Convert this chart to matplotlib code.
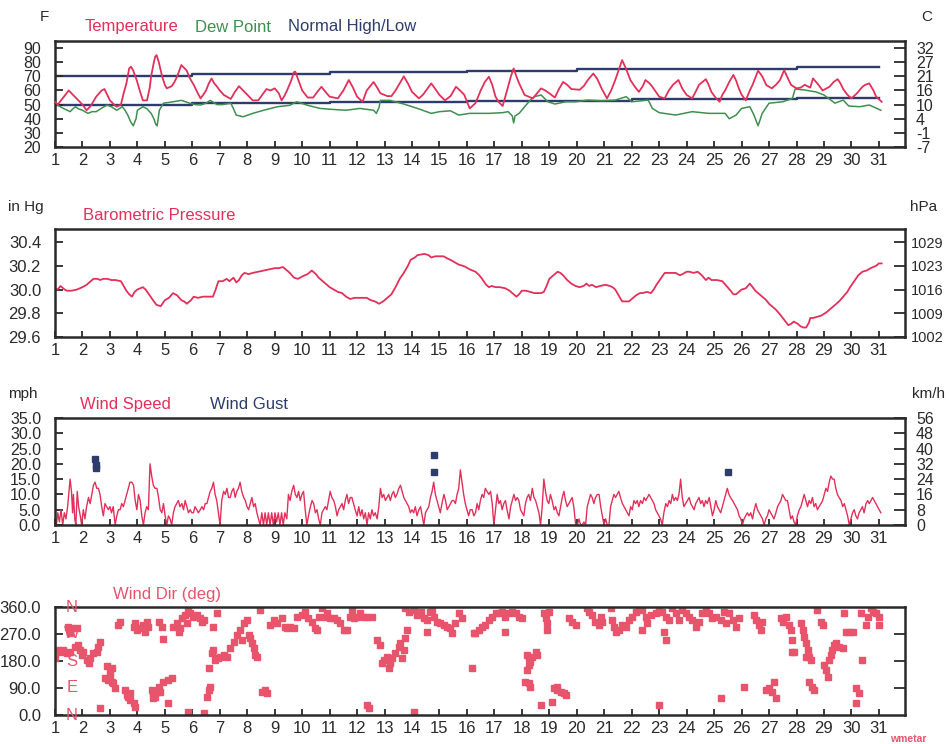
import matplotlib.pyplot as plt
from matplotlib.transforms import blended_transform_factory

# --- data ---
days = list(range(1, 32))

normal_day = [1, 6, 11, 16, 20, 28, 31]
normal_high = [70, 71.5, 72.8, 74, 75.2, 76.3, 76.3]
low_day = [1, 6, 11, 16, 22, 28, 31]
normal_low = [49.8, 51, 52, 52.6, 53.8, 54.8, 54.8]

temp_day = [1.0, 1.1, 1.3, 1.5, 1.65, 1.8, 2.0, 2.15, 2.3, 2.5, 2.7, 2.8, 2.9, 3.0, 3.15, 3.25, 3.4, 3.5,
            3.6, 3.7, 3.77, 3.85, 3.98, 4.1, 4.2, 4.35, 4.45, 4.5, 4.6, 4.65, 4.7, 4.78, 4.9, 5.0, 5.07,
            5.25, 5.35, 5.45, 5.6, 5.7, 5.8, 5.9, 6.05, 6.2, 6.3, 6.4, 6.5, 6.6, 6.7, 6.8, 6.9, 7.0,
            7.15, 7.4, 7.55, 7.7, 7.8, 7.9, 8.05, 8.2, 8.4, 8.55, 8.7, 8.85, 9.0, 9.15, 9.25, 9.35,
            9.45, 9.6, 9.7, 9.75, 9.85, 10.0, 10.2, 10.4, 10.55, 10.7, 10.85, 11.0, 11.3, 11.5, 11.7,
            11.85, 12.0, 12.2, 12.35, 12.6, 12.7, 12.85, 13.1, 13.25, 13.4, 13.55, 13.7, 13.85, 14.0,
            14.25, 14.4, 14.55, 14.7, 14.85, 15.0, 15.2, 15.4, 15.6, 15.75, 15.9, 16.1, 16.31, 16.5,
            16.65, 16.8, 16.92, 17.04, 17.15, 17.3, 17.46, 17.6, 17.7, 17.8, 17.9, 18.1, 18.4, 18.55,
            18.7, 18.85, 19.0, 19.2, 19.35, 19.5, 19.65, 19.8, 20.1, 20.25, 20.4, 20.6, 20.75, 20.9,
            21.1, 21.25, 21.4, 21.55, 21.65, 21.8, 21.95, 22.1, 22.26, 22.4, 22.5, 22.65, 22.75, 23.0,
            23.2, 23.35, 23.5, 23.7, 23.85, 24.0, 24.2, 24.35, 24.45, 24.7, 24.8, 24.9, 25.05, 25.2,
            25.3, 25.4, 25.55, 25.7, 25.8, 25.9, 26.0, 26.15, 26.3, 26.4, 26.6, 26.75, 26.9, 27.1,
            27.25, 27.4, 27.55, 27.7, 27.8, 28.0, 28.15, 28.3, 28.5, 28.6, 28.8, 28.95, 29.2, 29.35,
            29.5, 29.6, 29.7, 29.85, 30.0, 30.2, 30.4, 30.5, 30.65, 30.8, 30.9, 31.1]
temp_f = [52, 50, 55, 60, 57, 54, 50, 46, 49, 55.6, 60, 61, 57, 53, 50, 48.5, 50, 58,
          65, 75.6, 76.8, 74, 67, 59, 53, 53, 62, 70, 80, 84, 85, 80, 70, 64, 61.5,
          63, 66, 70, 78, 76, 74, 69, 64, 58, 54.4, 57, 60, 65, 68.5, 65, 62.7, 60,
          56.8, 54, 59, 63, 61, 59, 56, 53, 53, 57, 61, 60, 61.5, 58, 53, 56,
          60, 67, 73, 73.3, 68, 60, 55, 55, 59, 62.6, 59, 55.6, 54.4, 60, 67.4,
          62, 55.6, 52, 60, 66, 63, 58, 56, 56, 60, 65, 70, 65, 59,
          54.4, 57, 61, 65, 61, 56.8, 53, 56, 62.6, 60, 57, 47.3, 51, 60,
          66, 69.7, 64, 55.6, 52, 49, 60, 70, 75.6, 70, 65, 56.8, 54.4, 58,
          61.5, 60, 58, 55, 61, 66, 64, 61, 60.5, 63, 67.4, 72, 68, 61.5,
          54.4, 60, 67.4, 76, 81.5, 75, 67.4, 63, 59, 63, 67.4, 65, 62.6, 55.6,
          54.4, 60, 64, 67.4, 61, 56.8, 54.4, 60, 64, 68, 64, 59, 55, 52,
          57, 60, 66, 71, 67, 61.5, 57, 53, 60, 64, 74, 70, 63.8, 61.5,
          64, 67.4, 74.4, 68, 64, 61.5, 62, 64, 62, 68.5, 64, 60, 62.6, 66,
          68, 65, 61, 57, 54.4, 58, 62.6, 64, 65, 60, 55.6, 52]

dew_day = [1.0, 1.15, 1.3, 1.45, 1.55, 1.65, 1.75, 1.85, 2.0, 2.2, 2.35, 2.5, 2.7, 2.9, 3.05, 3.25,
           3.45, 3.55, 3.65, 3.75, 3.85, 3.95, 4.0, 4.2, 4.35, 4.5, 4.6, 4.67, 4.72, 4.8, 4.95, 5.3,
           5.6, 5.9, 6.1, 6.3, 6.5, 6.65, 6.9, 7.1, 7.4, 7.5, 7.6, 7.85, 8.2, 8.6, 9.1, 9.55, 9.8,
           10.2, 10.65, 11.1, 11.6, 12.1, 12.6, 12.7, 12.8, 12.85, 13.2, 13.7, 14.2, 14.7, 15.0,
           15.4, 15.7, 16.1, 16.31, 16.8, 17.3, 17.5, 17.65, 17.7, 17.75, 17.9, 18.1, 18.3, 18.45,
           18.7, 18.95, 19.2, 19.6, 19.95, 20.4, 20.9, 21.4, 21.8, 22.0, 22.6, 22.75, 23.0, 23.6,
           24.2, 24.8, 25.4, 25.55, 25.8, 26.0, 26.3, 26.45, 26.6, 26.75, 27.0, 27.5, 27.85, 27.95,
           28.3, 28.7, 29.0, 29.4, 29.7, 29.9, 30.3, 30.65, 31.07]
dew_f = [51, 49, 47.3, 46, 45, 47, 48.5, 47, 46, 43.8, 45, 45, 47.5, 49.7, 48.5, 46,
         48.5, 46, 42.6, 38, 35, 40, 46, 48.5, 47, 43.8, 40, 36, 35, 46, 51, 52,
         53, 51, 50, 49.7, 51, 53, 50, 50, 51, 47, 42.6, 41.4, 43.8, 46, 48.5, 49.5, 52,
         49.5, 47.3, 46.6, 46, 47.3, 46, 43.8, 48, 53, 53, 50.4, 47.3, 43.8, 45,
         45.6, 42.6, 43.8, 43.8, 43.8, 44.3, 45, 42, 37, 42, 43.8, 48.5, 53, 55.6,
         56.8, 52, 50.4, 52, 52, 53.2, 52.7, 53.2, 55.6, 52, 53.2, 47.3, 44.3, 42.6,
         45, 43.8, 43.8, 40, 42.6, 47.3, 48.5, 42.6, 35, 43.8, 51, 52, 54.4, 61,
         60.3, 59, 56.8, 51, 53.2, 49, 48.5, 49.7, 46]

pres_day = [1.0, 1.1, 1.2, 1.25, 1.35, 1.43, 1.6, 1.8, 2.0, 2.15, 2.3, 2.4, 2.55, 2.65, 2.75, 2.9,
            3.05, 3.2, 3.4, 3.5, 3.6, 3.7, 3.8, 3.9, 4.0, 4.1, 4.2, 4.3, 4.45, 4.6, 4.7, 4.85, 5.0,
            5.15, 5.3, 5.45, 5.6, 5.7, 5.8, 5.95, 6.05, 6.2, 6.4, 6.6, 6.75, 6.85, 6.95, 7.1, 7.25,
            7.35, 7.5, 7.6, 7.7, 7.8, 7.9, 8.05, 8.2, 8.4, 8.6, 8.8, 9.0, 9.15, 9.3, 9.45, 9.55,
            9.7, 9.85, 10.0, 10.2, 10.35, 10.5, 10.6, 10.85, 11.0, 11.15, 11.3, 11.45, 11.6, 11.75,
            11.9, 12.1, 12.35, 12.5, 12.65, 12.8, 12.95, 13.1, 13.25, 13.4, 13.55, 13.7, 13.85,
            13.95, 14.1, 14.2, 14.45, 14.6, 14.7, 14.85, 15.0, 15.15, 15.3, 15.4, 15.55, 15.7,
            15.85, 15.95, 16.1, 16.31, 16.45, 16.55, 16.7, 16.8, 16.9, 17.04, 17.2, 17.4, 17.55,
            17.65, 17.8, 17.9, 18.0, 18.15, 18.3, 18.45, 18.55, 18.7, 18.8, 18.9, 19.0, 19.15,
            19.3, 19.4, 19.5, 19.65, 19.8, 19.95, 20.1, 20.25, 20.35, 20.45, 20.55, 20.7, 20.85,
            21.05, 21.2, 21.3, 21.4, 21.5, 21.6, 21.65, 21.9, 22.05, 22.15, 22.3, 22.4, 22.55,
            22.7, 22.8, 22.9, 23.05, 23.2, 23.4, 23.6, 23.75, 23.85, 24.0, 24.1, 24.25, 24.4,
            24.55, 24.7, 24.8, 24.9, 25.1, 25.3, 25.45, 25.6, 25.7, 25.8, 25.9, 26.0, 26.15, 26.3,
            26.4, 26.5, 26.65, 26.8, 26.9, 27.0, 27.1, 27.25, 27.4, 27.5, 27.6, 27.7, 27.8, 27.9,
            28.05, 28.15, 28.25, 28.35, 28.45, 28.5, 28.6, 28.75, 28.9, 29.1, 29.25, 29.4, 29.55,
            29.7, 29.85, 29.95, 30.1, 30.25, 30.4, 30.55, 30.7, 30.8, 30.9, 31.0, 31.1]
pres_inhg = [30.01, 30.0, 30.03, 30.02, 30.0, 29.99, 29.99, 30.0, 30.02, 30.04, 30.07, 30.09, 30.09,
             30.08, 30.09, 30.09, 30.08, 30.08, 30.07, 30.03, 29.99, 29.96, 29.94, 29.98, 30.0, 30.01,
             30.02, 30.0, 29.95, 29.9, 29.87, 29.86, 29.91, 29.93, 29.97, 29.95, 29.91, 29.9, 29.88,
             29.91, 29.94, 29.93, 29.94, 29.94, 29.94, 30.0, 30.07, 30.07, 30.09, 30.07, 30.1, 30.06,
             30.08, 30.12, 30.14, 30.13, 30.14, 30.15, 30.16, 30.17, 30.18, 30.18, 30.19, 30.16,
             30.14, 30.1, 30.09, 30.11, 30.13, 30.16, 30.13, 30.1, 30.05, 30.02, 30.0, 29.98, 29.97,
             29.94, 29.92, 29.93, 29.93, 29.93, 29.91, 29.9, 29.88, 29.9, 29.93, 29.96, 30.02, 30.09,
             30.14, 30.2, 30.25, 30.27, 30.29, 30.3, 30.29, 30.27, 30.28, 30.28, 30.28, 30.26, 30.25,
             30.23, 30.21, 30.2, 30.19, 30.17, 30.15, 30.12, 30.09, 30.04, 30.02, 30.03, 30.02, 30.02,
             30.01, 29.99, 29.97, 29.94, 29.96, 29.99, 29.99, 29.98, 29.97, 29.97, 29.97, 29.98,
             30.03, 30.09, 30.12, 30.15, 30.14, 30.12, 30.08, 30.05, 30.03, 30.02, 30.03, 30.05,
             30.03, 30.04, 30.02, 30.03, 30.04, 30.03, 30.02, 30.0, 29.96, 29.92, 29.9, 29.9, 29.93,
             29.95, 29.97, 29.97, 29.98, 29.97, 30.0, 30.04, 30.09, 30.14, 30.14, 30.14, 30.12,
             30.13, 30.15, 30.15, 30.14, 30.15, 30.12, 30.08, 30.1, 30.08, 30.08, 30.07, 30.03,
             29.99, 29.96, 29.96, 29.98, 30.0, 30.01, 30.05, 30.02, 29.99, 29.96, 29.93, 29.91,
             29.88, 29.86, 29.83, 29.79, 29.76, 29.73, 29.7, 29.71, 29.73, 29.71, 29.69, 29.68,
             29.68, 29.72, 29.76, 29.76, 29.77, 29.78, 29.81, 29.84, 29.87, 29.9, 29.94, 29.98,
             30.02, 30.07, 30.12, 30.15, 30.16, 30.18, 30.19, 30.2, 30.22, 30.22]

wind_day = [1.0, 1.05, 1.1, 1.16, 1.22, 1.28, 1.34, 1.4, 1.46, 1.55, 1.6, 1.64, 1.67, 1.72, 1.76, 1.81,
            1.86, 1.92, 1.97, 2.03, 2.09, 2.15, 2.22, 2.28, 2.34, 2.4, 2.46, 2.52, 2.58, 2.64, 2.7,
            2.76, 2.82, 2.88, 2.94, 3.0, 3.06, 3.12, 3.19, 3.25, 3.31, 3.37, 3.43, 3.49, 3.55, 3.61,
            3.67, 3.73, 3.8, 3.86, 3.92, 3.98, 4.04, 4.1, 4.16, 4.22, 4.28, 4.34, 4.4, 4.46, 4.52,
            4.58, 4.64, 4.71, 4.77, 4.83, 4.89, 4.95, 5.01, 5.07, 5.13, 5.19, 5.25, 5.31, 5.37, 5.43,
            5.49, 5.55, 5.62, 5.68, 5.74, 5.8, 5.86, 5.92, 5.98, 6.04, 6.1, 6.16, 6.22, 6.29, 6.35,
            6.41, 6.47, 6.53, 6.59, 6.65, 6.71, 6.77, 6.83, 6.89, 6.95, 7.01, 7.07, 7.14, 7.2, 7.26,
            7.32, 7.38, 7.44, 7.5, 7.56, 7.62, 7.68, 7.74, 7.8, 7.87, 7.93, 7.99, 8.05, 8.11, 8.17,
            8.23, 8.29, 8.35, 8.41, 8.47, 8.53, 8.59, 8.65, 8.71, 8.77, 8.83, 8.89, 8.95, 9.01, 9.07,
            9.13, 9.19, 9.25, 9.31, 9.37, 9.44, 9.5, 9.56, 9.62, 9.69, 9.75, 9.81, 9.87, 9.93, 9.99,
            10.05, 10.11, 10.17, 10.23, 10.3, 10.36, 10.42, 10.48, 10.54, 10.6, 10.66, 10.72, 10.78,
            10.84, 10.9, 10.96, 11.02, 11.08, 11.15, 11.21, 11.27, 11.33, 11.39, 11.45, 11.51, 11.57,
            11.63, 11.69, 11.75, 11.81, 11.87, 11.93, 12.0, 12.06, 12.12, 12.18, 12.24, 12.3, 12.36,
            12.42, 12.48, 12.54, 12.6, 12.66, 12.73, 12.79, 12.85, 12.91, 12.97, 13.03, 13.09, 13.15,
            13.21, 13.27, 13.33, 13.39, 13.45, 13.52, 13.58, 13.64, 13.7, 13.76, 13.82, 13.88, 13.94,
            14.0, 14.06, 14.12, 14.18, 14.25, 14.31, 14.37, 14.43, 14.49, 14.55, 14.61, 14.67, 14.73,
            14.79, 14.85, 14.91, 14.97, 15.03, 15.09, 15.16, 15.22, 15.28, 15.34, 15.4, 15.46, 15.52,
            15.58, 15.64, 15.7, 15.76, 15.82, 15.88, 15.94, 16.0, 16.06, 16.12, 16.19, 16.25,
            16.31, 16.37, 16.43, 16.49, 16.55, 16.61, 16.67, 16.73, 16.8, 16.86, 16.92, 16.98, 17.04,
            17.1, 17.16, 17.22, 17.28, 17.34, 17.4, 17.46, 17.53, 17.59, 17.65, 17.71, 17.77, 17.83,
            17.89, 17.95, 18.01, 18.07, 18.13, 18.19, 18.25, 18.31, 18.38, 18.44, 18.5, 18.56, 18.62,
            18.68, 18.74, 18.8, 18.86, 18.92, 18.98, 19.04, 19.1, 19.17, 19.23, 19.29, 19.35, 19.41,
            19.47, 19.53, 19.59, 19.65, 19.71, 19.77, 19.83, 19.89, 19.96, 20.02, 20.08, 20.14, 20.2,
            20.26, 20.32, 20.38, 20.44, 20.5, 20.56, 20.62, 20.68, 20.75, 20.81, 20.87, 20.93, 20.99,
            21.05, 21.11, 21.17, 21.23, 21.29, 21.35, 21.41, 21.47, 21.53, 21.59, 21.66, 21.72, 21.78,
            21.84, 21.9, 21.96, 22.02, 22.08, 22.14, 22.2, 22.26, 22.32, 22.39, 22.45, 22.51, 22.57,
            22.63, 22.69, 22.75, 22.81, 22.87, 22.93, 22.99, 23.05, 23.11, 23.17, 23.24, 23.3, 23.36,
            23.42, 23.48, 23.54, 23.6, 23.66, 23.72, 23.78, 23.84, 23.9, 23.96, 24.03, 24.09, 24.15,
            24.21, 24.27, 24.33, 24.39, 24.45, 24.51, 24.57, 24.63, 24.69, 24.75, 24.82, 24.88, 24.94,
            25.0, 25.06, 25.12, 25.18, 25.24, 25.3, 25.36, 25.42, 25.48, 25.54, 25.6, 25.67, 25.73,
            25.79, 25.85, 25.91, 25.97, 26.03, 26.09, 26.15, 26.21, 26.27, 26.33, 26.4, 26.46, 26.52,
            26.58, 26.64, 26.7, 26.76, 26.82, 26.88, 26.94, 27.0, 27.06, 27.12, 27.18, 27.25, 27.31,
            27.37, 27.43, 27.49, 27.55, 27.61, 27.67, 27.73, 27.79, 27.85, 27.91, 27.97, 28.03, 28.1,
            28.16, 28.22, 28.28, 28.34, 28.4, 28.46, 28.52, 28.58, 28.64, 28.7, 28.76, 28.82, 28.89,
            28.95, 29.01, 29.07, 29.13, 29.19, 29.25, 29.31, 29.37, 29.43, 29.49, 29.55, 29.62, 29.68,
            29.74, 29.8, 29.86, 29.92, 29.98, 30.04, 30.1, 30.16, 30.22, 30.28, 30.34, 30.4, 30.46,
            30.53, 30.59, 30.65, 30.71, 30.77, 30.83, 30.89, 30.95, 31.01, 31.07]
wind_mph = [3, 0, 4, 1, 5, 0, 4, 2, 6, 15, 11, 4, 10, 2, 0, 11,
            6, 3, 0, 5, 2, 6, 9, 7, 10, 13, 14, 12, 12, 10, 6,
            3, 7, 6, 5, 6, 4, 6, 0, 3, 5, 5, 7, 6, 8, 10,
            12, 14, 14, 13, 8, 5, 10, 8, 3, 0, 4, 6, 5, 20, 16,
            13, 12, 12, 9, 5, 4, 7, 3, 0, 3, 2, 0, 4, 6, 7,
            8, 6, 7, 5, 8, 6, 4, 5, 4, 4, 6, 5, 4, 5, 6,
            5, 7, 7, 9, 11, 12, 14, 10, 8, 4, 0, 8, 11, 10, 12,
            9, 9, 11, 12, 9, 11, 12, 14, 11, 9, 8, 6, 5, 7, 9,
            6, 7, 4, 2, 0, 4, 0, 4, 0, 4, 0, 4, 0, 4, 1,
            4, 0, 4, 0, 4, 2, 10, 8, 11, 13, 10, 9, 11, 8, 10,
            11, 5, 0, 3, 6, 8, 7, 4, 5, 2, 0, 4, 5,
            6, 5, 8, 11, 9, 8, 6, 3, 5, 6, 7, 5, 8,
            10, 7, 9, 9, 7, 5, 3, 6, 3, 5, 2, 4, 0,
            4, 2, 5, 3, 4, 2, 6, 12, 9, 10, 8, 9, 10,
            8, 10, 11, 9, 10, 12, 13, 11, 9, 8, 7, 6, 4,
            5, 4, 6, 3, 5, 6, 3, 0, 4, 5, 6, 9, 11,
            14, 10, 8, 6, 4, 7, 10, 8, 5, 6, 7, 8, 8,
            7, 10, 12, 18, 14, 10, 7, 5, 3, 5, 5, 3,
            4, 7, 5, 8, 10, 9, 12, 11, 10, 11, 7, 0, 5,
            10, 7, 8, 5, 7, 8, 5, 2, 6, 8, 10, 8, 9,
            8, 5, 4, 3, 7, 9, 10, 8, 12, 9, 8, 6, 4,
            0, 6, 15, 11, 8, 7, 10, 8, 5, 6, 4, 3, 6,
            9, 11, 8, 6, 7, 8, 9, 6, 0, 0, 2, 0, 0,
            1, 0, 6, 8, 10, 9, 7, 9, 10, 10, 6, 3, 0,
            2, 0, 0, 6, 8, 10, 9, 10, 11, 9, 7, 6, 5,
            4, 3, 6, 5, 8, 7, 8, 6, 8, 7, 9, 8, 9,
            10, 9, 8, 7, 5, 4, 3, 2, 0, 4, 7, 6, 8,
            7, 10, 8, 9, 8, 10, 15, 9, 6, 7, 8, 9, 7,
            6, 5, 7, 8, 9, 7, 8, 6, 8, 7, 9, 6, 3,
            5, 8, 6, 5, 4, 6, 8, 10, 12, 10, 9, 8, 7,
            6, 5, 3, 2, 0, 2, 3, 4, 3, 4, 2, 5, 7,
            5, 4, 3, 2, 0, 2, 3, 5, 4, 3, 2, 4, 6,
            7, 8, 10, 9, 8, 8, 5, 2, 3, 1, 0, 3, 5,
            6, 8, 10, 8, 6, 8, 7, 9, 6, 7, 5, 6, 7,
            8, 10, 12, 11, 14, 16, 15, 15, 12, 10, 9, 8, 6,
            7, 5, 3, 0, 2, 4, 5, 3, 2, 4, 5, 6, 4,
            7, 8, 7, 8, 9, 8, 7, 6, 5, 4]

gust_day = [2.45, 2.5, 2.5, 14.8, 14.8, 25.5]
gust_mph = [21.6, 19.6, 18.6, 22.8, 17.2, 17.2]

dir_day = [1.0, 1.12, 1.18, 1.3, 1.43, 1.55, 1.49, 1.61, 1.55, 1.79, 1.73, 1.85, 1.91, 1.97, 2.03,
           2.15, 2.28, 2.22, 2.4, 2.52, 2.58, 2.64, 2.64, 2.88, 3.0, 3.07, 2.82, 2.94, 3.07, 3.13,
           3.19, 3.0, 3.37, 3.31, 3.55, 3.61, 3.67, 3.73, 3.86, 3.92, 3.73, 3.86, 3.98, 3.92, 4.1,
           4.22, 4.34, 4.4, 4.28, 4.52, 4.58, 4.65, 4.71, 4.77, 4.58, 4.83, 4.95, 5.13, 5.25, 5.13,
           4.77, 4.89, 4.95, 5.31, 5.43, 5.56, 5.62, 5.74, 5.86, 5.92, 6.04, 6.16, 6.29, 6.35, 6.41,
           5.8, 5.5, 5.86, 6.41, 6.89, 6.77, 6.53, 6.59, 6.65, 6.59, 6.71, 6.77, 6.83, 6.95, 7.01,
           7.14, 7.26, 7.38, 7.5, 7.62, 7.74, 7.87, 7.99, 7.8, 8.05, 8.11, 8.17, 8.23, 8.29, 8.35,
           8.47, 8.53, 8.66, 8.72, 8.84, 8.96, 9.08, 9.26, 9.38, 9.44, 9.57, 9.69, 9.81, 9.99,
           10.11, 10.23, 10.36, 10.48, 10.54, 10.6, 10.72, 10.84, 10.9, 11.02, 11.15, 11.27, 11.39,
           11.51, 11.63, 11.75, 11.81, 11.87, 12.0, 12.12, 12.24, 12.36, 12.54, 12.36, 12.42,
           12.73, 12.85, 12.91, 12.97, 13.09, 13.15, 13.21, 13.27, 13.39, 13.52, 13.58, 13.7, 13.64,
           13.76, 13.82, 14.06, 13.76, 13.88, 14.06, 14.18, 14.31, 14.43, 14.55, 14.67, 14.73,
           14.79, 14.91, 15.03, 15.16, 15.28, 15.4, 15.46, 15.58, 15.7, 15.82, 14.55, 16.19, 16.25,
           16.31, 16.43, 16.55, 16.67, 16.8, 16.92, 17.04, 17.16, 17.28, 17.4, 17.53, 17.65, 17.77,
           17.89, 18.01, 17.4, 18.19, 18.25, 18.31, 18.38, 18.5, 18.56, 18.25, 18.19, 18.13, 18.25,
           18.31, 18.68, 18.8, 18.86, 18.92, 18.98, 18.92, 19.1, 19.17, 19.29, 19.41, 19.53, 19.59,
           19.29, 19.71, 19.83, 19.96, 20.38, 20.44, 20.56, 20.68, 20.81, 20.87, 20.93, 21.23,
           21.29, 21.35, 21.41, 21.53, 21.66, 21.78, 21.9, 22.02, 22.14, 22.26, 22.39, 22.51, 22.39,
           22.57, 22.69, 22.87, 22.99, 23.11, 23.24, 23.36, 23.48, 23.6, 23.72, 23.84, 23.96, 24.09,
           24.21, 24.33, 24.45, 24.57, 24.69, 24.82, 24.94, 25.06, 25.24, 25.36, 25.42, 25.54,
           25.67, 25.79, 25.91, 23.17, 23.24, 22.99, 25.24, 26.09, 26.46, 26.52, 26.64, 26.7, 26.76,
           26.88, 27.0, 27.12, 27.18, 27.25, 27.43, 27.49, 27.61, 27.73, 27.79, 27.85, 27.91, 27.85,
           28.16, 28.22, 28.28, 28.34, 28.4, 28.46, 28.52, 28.34, 28.46, 28.58, 28.64, 28.76, 28.89,
           28.95, 29.01, 29.07, 29.13, 29.19, 29.25, 29.31, 29.37, 29.43, 29.55, 29.68, 29.74, 29.8,
           29.92, 30.04, 30.16, 30.28, 30.16, 30.4, 30.34, 30.53, 30.59, 30.71, 30.77, 30.89, 31.01,
           31.01]
dir_deg = [189, 217, 211, 217, 206, 211, 294, 289, 272, 289, 228, 233, 217, 200, 211,
           183, 189, 172, 206, 211, 228, 244, 22, 163, 144, 156, 122, 117, 111, 106,
           89, 128, 311, 300, 83, 67, 61, 50, 39, 28, 72, 294, 283, 306, 289,
           300, 311, 294, 278, 83, 72, 61, 78, 94, 56, 78, 111, 117, 122, 39,
           311, 294, 252, 294, 306, 289, 322, 333, 350, 339, 328, 333, 322, 311, 317,
           306, 278, 11, 8, 339, 294, 61, 83, 94, 156, 206, 217, 183, 189, 194,
           200, 194, 222, 244, 267, 283, 306, 317, 250, 267, 256, 239, 222, 200, 194,
           350, 78, 83, 72, 300, 317, 306, 322, 294, 289, 294, 289, 328, 333,
           344, 322, 311, 289, 283, 328, 356, 328, 339, 322, 322, 317, 306,
           283, 283, 328, 350, 322, 328, 339, 328, 328, 328, 33, 22,
           250, 233, 172, 183, 194, 156, 172, 189, 206, 228, 239, 217, 189,
           256, 283, 11, 356, 344, 350, 333, 344, 322, 317, 344, 350,
           328, 311, 306, 300, 294, 289, 272, 306, 339, 322, 278, 156, 272,
           272, 283, 294, 300, 317, 328, 339, 339, 344, 328, 339, 344, 339,
           328, 322, 278, 200, 189, 178, 194, 211, 200, 167, 150, 111, 106,
           94, 33, 339, 322, 306, 344, 283, 44, 89, 83, 78, 72, 67,
           94, 322, 311, 300, 358, 344, 333, 311, 300, 328, 311, 356,
           317, 294, 278, 283, 300, 294, 317, 328, 344, 356, 350, 328, 283,
           306, 333, 339, 350, 344, 328, 317, 356, 339, 317, 350, 339, 328,
           317, 294, 311, 339, 358, 339, 322, 328, 317, 344, 306, 339,
           317, 294, 322, 278, 250, 33, 56, 94, 333, 317, 300, 283, 311,
           83, 89, 78, 111, 56, 322, 311, 328, 300, 283, 250, 211, 211,
           306, 283, 261, 239, 217, 194, 183, 194, 111, 94, 83, 350, 311,
           300, 167, 150, 128, 183, 200, 217, 233, 239, 228, 222, 339, 278,
           278, 278, 89, 72, 39, 183, 339, 300, 328, 356, 344, 339, 328,
           300]

f_ticks = [20, 30, 40, 50, 60, 70, 80, 90]
c_labels = ['-7', '-1', '4', '10', '16', '21', '27', '32']
inhg_ticks = [29.6, 29.8, 30.0, 30.2, 30.4]
hpa_labels = ['1002', '1009', '1016', '1023', '1029']
mph_ticks = [0, 5, 10, 15, 20, 25, 30, 35]
kmh_labels = ['0', '8', '16', '24', '32', '40', '48', '56']
deg_ticks = [0, 90, 180, 270, 360]
compass = ['N', 'E', 'S', 'W', 'N']

# --- styling ---
RED = '#e3305a'
PINK = '#e8546c'
GREEN = '#3f8f50'
NAVY = '#2d3c6b'
INK = '#2a2a2a'
SANS = ['Liberation Sans', 'DejaVu Sans']
plt.rcParams['font.family'] = SANS

W, H = 949, 744
fig = plt.figure(figsize=(W / 100, H / 100), dpi=100)


def px_axes(top, bottom, left=55, right=905):
    return fig.add_axes([left / W, 1 - bottom / H, (right - left) / W, (bottom - top) / H])


def label(x, y, s, color=INK, size=11.5, ha='left', **kw):
    fig.text(x / W, 1 - y / H, s, color=color, fontsize=size, ha=ha, va='center', **kw)


def style(ax, ylim, lticks, llabels, rticks, rlabels, lsize, rsize, rpad=8):
    ax.set_xlim(1, 31.95)
    ax.set_ylim(*ylim)
    ax.set_xticks(days)
    ax.set_xticklabels([str(d) for d in days], fontsize=12, color=INK)
    ax.tick_params(axis='x', direction='in', length=4, width=1.3, pad=4, color=INK)
    ax.set_yticks(lticks)
    ax.set_yticklabels(llabels, fontsize=lsize, color=INK)
    ax.tick_params(axis='y', direction='in', length=6, width=1.3, pad=10, color=INK)
    for sp in ax.spines.values():
        sp.set_linewidth(1.8)
        sp.set_color(INK)
    tw = ax.twinx()
    tw.set_ylim(*ylim)
    tw.set_yticks(rticks)
    tw.set_yticklabels(rlabels, fontsize=rsize, color=INK)
    tw.tick_params(axis='y', direction='in', length=8, width=1.3, pad=rpad, color=INK)
    for sp in tw.spines.values():
        sp.set_visible(False)
    return tw


# panel 1: temperature
ax1 = px_axes(41, 147)
ax1.plot(temp_day, temp_f, color=RED, lw=1.3, zorder=3)
ax1.plot(dew_day, dew_f, color=GREEN, lw=1.1, zorder=2)
ax1.step(normal_day, normal_high, where='post', color=NAVY, lw=1.7, zorder=1)
ax1.step(low_day, normal_low, where='post', color=NAVY, lw=1.7, zorder=1)
style(ax1, (20, 95), f_ticks, [str(v) for v in f_ticks], f_ticks, c_labels, 11.5, 11.5)
label(40, 17, 'F', size=11)
label(921, 17, 'C', size=11)
label(85, 27, 'Temperature', color=RED, size=12)
label(195, 27, 'Dew Point', color=GREEN, size=12)
label(288, 27, 'Normal High/Low', color=NAVY, size=12)

# panel 2: pressure
ax2 = px_axes(229, 337)
ax2.plot(pres_day, pres_inhg, color=RED, lw=1.3)
style(ax2, (29.6, 30.51), inhg_ticks, ['%.1f' % v for v in inhg_ticks], inhg_ticks, hpa_labels,
      12, 10.5, rpad=4)
label(8, 207, 'in Hg', size=11)
label(910, 207, 'hPa', size=11)
label(83, 215, 'Barometric Pressure', color=RED, size=12)

# panel 3: wind speed
ax3 = px_axes(418, 525)
ax3.plot(wind_day, wind_mph, color=RED, lw=1.0)
ax3.plot(gust_day, gust_mph, ls='none', marker='s', ms=4.5, color=NAVY)
style(ax3, (0, 35), mph_ticks, ['%.1f' % v for v in mph_ticks], mph_ticks, kmh_labels, 11.5, 11.5)
label(8, 394, 'mph', size=11)
label(912, 394, 'km/h', size=11)
label(80, 405, 'Wind Speed', color=RED, size=12)
label(210, 405, 'Wind Gust', color=NAVY, size=12)

# panel 4: wind direction
ax4 = px_axes(607, 715)
ax4.plot(dir_day, dir_deg, ls='none', marker='s', ms=4, color=PINK, mec=PINK)
style(ax4, (0, 360), deg_ticks, ['%.1f' % v for v in deg_ticks], [90, 180, 270], ['', '', ''],
      12, 12)
trans = blended_transform_factory(ax4.transAxes, ax4.transData)
for d, c in zip(deg_ticks, compass):
    ax4.text(0.02, d, c, transform=trans, color=PINK, fontsize=12, ha='center', va='center')
label(113, 595, 'Wind Dir (deg)', color=PINK, size=12)
label(890, 739, 'wmetar', color=PINK, size=7.5, weight='bold')

fig.savefig('out.png', dpi=100)
